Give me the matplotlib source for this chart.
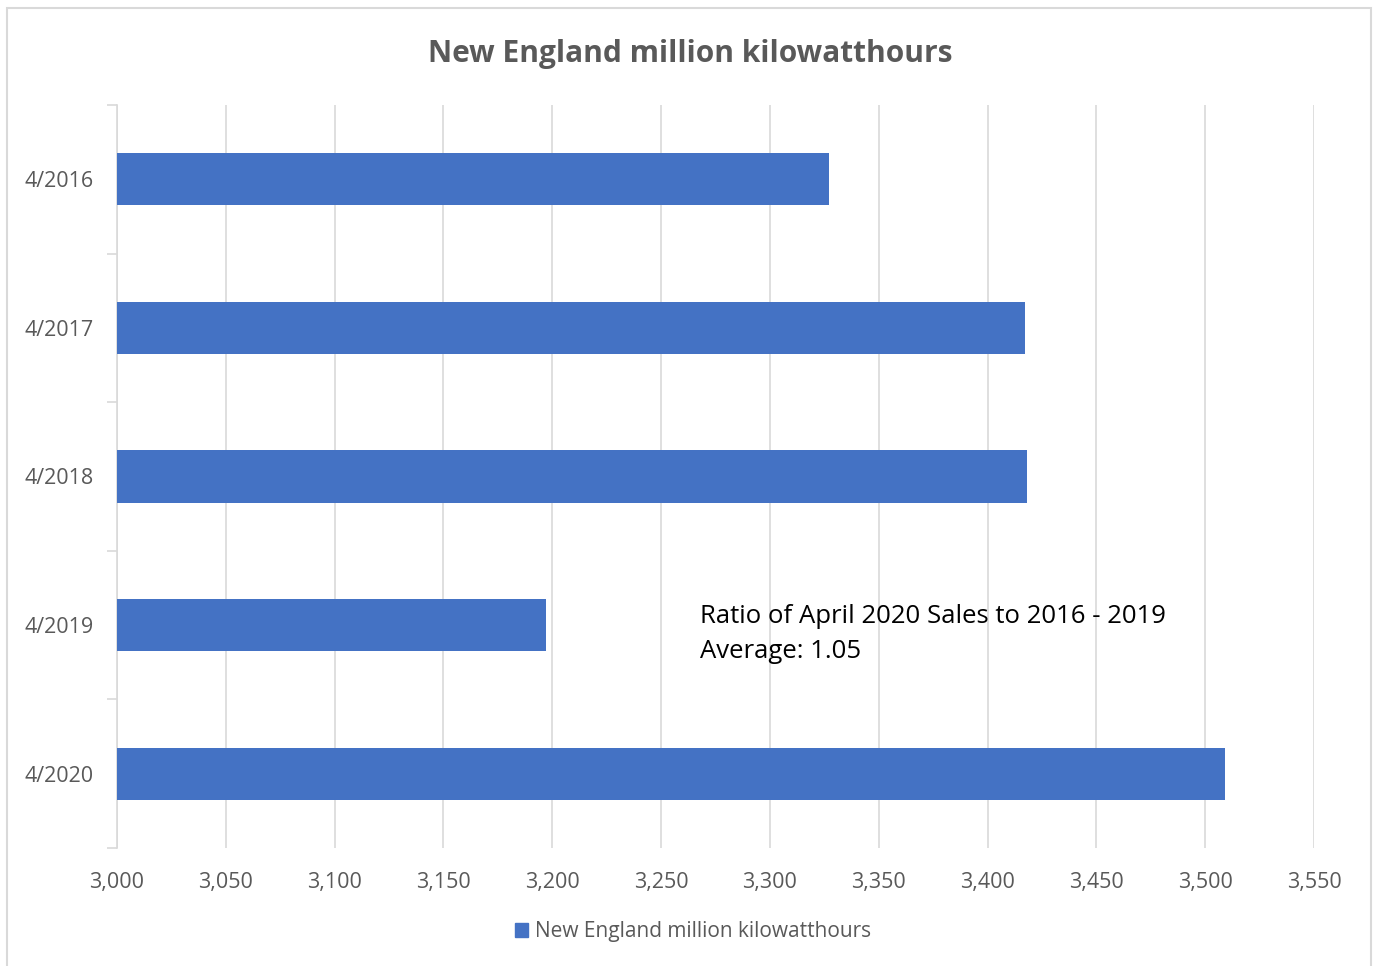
import matplotlib
matplotlib.use("Agg")
import matplotlib.pyplot as plt
from matplotlib.patches import Rectangle, Patch

plt.rcParams['font.family'] = ['Open Sans', 'DejaVu Sans']

# Data
categories = ["4/2016", "4/2017", "4/2018", "4/2019", "4/2020"]
values = [3327, 3417, 3418, 3197, 3509]
x_ticks = list(range(3000, 3551, 50))

bar_color = "#4472C4"
text_gray = "#595959"
grid_gray = "#D9D9D9"

W, H = 1373, 966
fig = plt.figure(figsize=(W / 100, H / 100), dpi=100)

# chart area border
fig.patches.append(Rectangle((7 / W, -0.01), (1371 - 7) / W, (966 - 8) / H + 0.01,
                             transform=fig.transFigure, fill=False,
                             edgecolor=grid_gray, linewidth=1.5))

ax = fig.add_axes([117 / W, (H - 848) / H, (1314 - 117) / W, (848 - 105) / H])

ypos = list(range(len(categories)))
ax.barh(ypos, [v - 3000 for v in values], left=3000, height=0.35,
        color=bar_color, zorder=3)

ax.set_xlim(3000, 3550)
ax.set_ylim(len(categories) - 0.5, -0.5)
ax.set_xticks(x_ticks)
ax.set_xticklabels([f"{t:,}" for t in x_ticks])
ax.set_yticks(ypos)
ax.set_yticklabels(categories)
ax.set_yticks([i - 0.5 for i in range(len(categories) + 1)], minor=True)

ax.grid(axis="x", color=grid_gray, linewidth=1.2, zorder=0)
for s in ["top", "right", "bottom"]:
    ax.spines[s].set_visible(False)
ax.spines["left"].set_color(grid_gray)
ax.spines["left"].set_linewidth(1.2)

ax.tick_params(axis="x", length=0, pad=17, labelsize=15.5, labelcolor=text_gray)
ax.tick_params(axis="y", which="major", length=0, pad=17, labelsize=15.5,
               labelcolor=text_gray)
ax.tick_params(axis="y", which="minor", length=7, color=grid_gray, width=1.2)

fig.text(0.503, (H - 54) / H, "New England million kilowatthours",
         ha="center", va="center", fontsize=21.5, fontweight="bold", color=text_gray)

ax.text(3268, 3.06, "Ratio of April 2020 Sales to 2016 - 2019\nAverage: 1.05",
        ha="left", va="center", fontsize=18.5, color="black", linespacing=1.55)

fig.legend(handles=[Patch(color=bar_color, label="New England million kilowatthours")],
           loc="center", bbox_to_anchor=(693 / W, (H - 932) / H), frameon=False,
           fontsize=15, labelcolor=text_gray, handlelength=0.65, handleheight=0.65,
           handletextpad=0.35)

fig.savefig("out.png", dpi=100)
